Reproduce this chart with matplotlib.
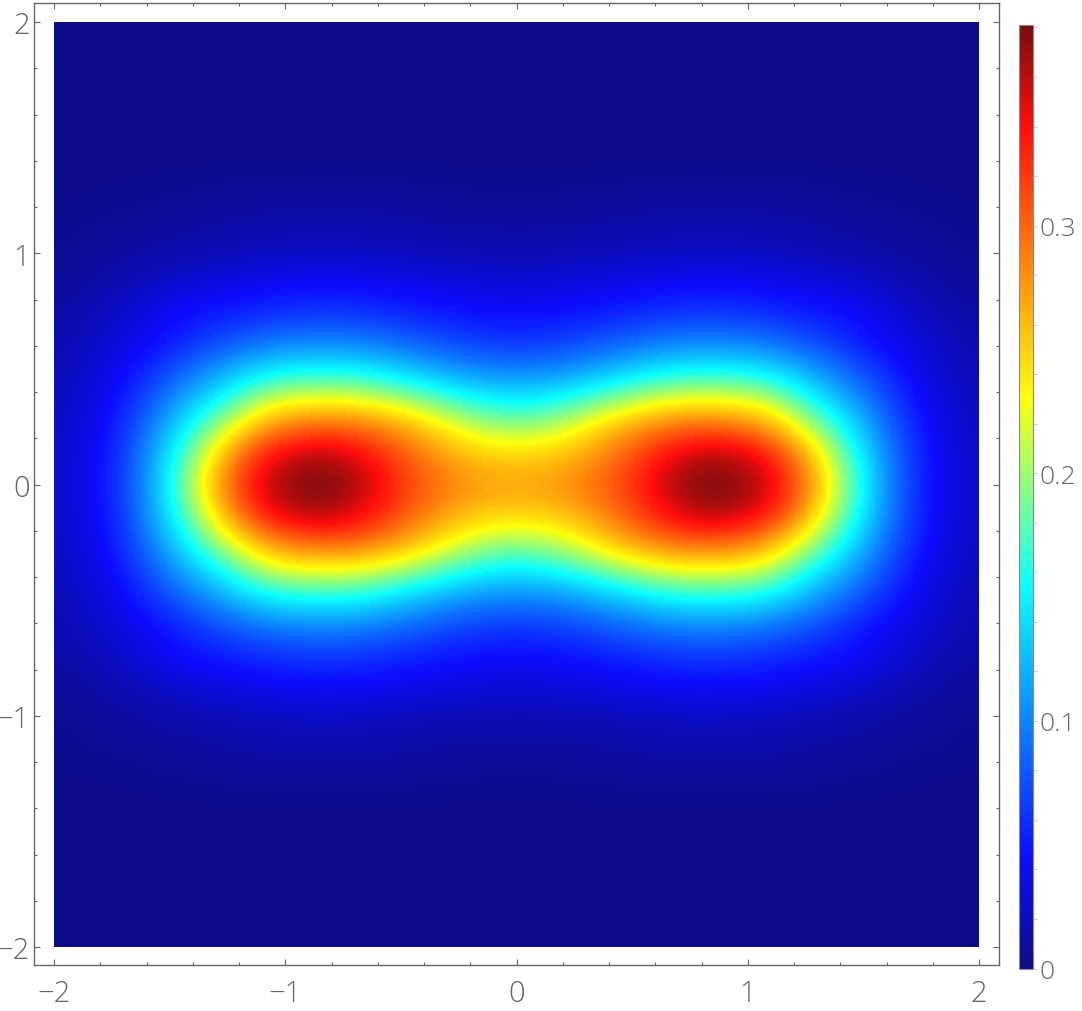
import numpy as np
import matplotlib
matplotlib.use("Agg")
import matplotlib.pyplot as plt
from matplotlib import font_manager as fm
from matplotlib.colors import LinearSegmentedColormap, Normalize, to_rgb
from matplotlib.cm import ScalarMappable
from matplotlib.patches import Rectangle
from matplotlib.ticker import MultipleLocator, FixedLocator, FuncFormatter

W, H = 1082, 1012


def light_family():
    for fam in ['Open Sans', 'Lato', 'Roboto', 'Noto Sans', 'Inter']:
        for f in fm.fontManager.ttflist:
            if f.name == fam and f.weight in (200, 300, 'light', 'extra light'):
                return fam
    return 'Open Sans'


FONT = light_family()
plt.rcParams['font.family'] = [FONT, 'DejaVu Sans']

# density: quadrant x>=0, y>=0, step 0.125 (rows = y, columns = x)
y_000 = [.272,.275,.285,.302,.325,.352,.376,.381,.372,.345,.295,.222,.155,.095,.055,.035,.024]
y_125 = [.252,.255,.266,.286,.310,.337,.358,.365,.354,.326,.272,.205,.146,.092,.054,.034,.024]
y_250 = [.198,.206,.224,.250,.274,.292,.303,.302,.292,.262,.216,.170,.124,.082,.050,.032,.022]
y_375 = [.145,.150,.163,.182,.200,.215,.222,.222,.217,.197,.160,.130,.098,.068,.042,.028,.020]
y_500 = [.095,.098,.105,.117,.130,.143,.150,.150,.147,.135,.115,.093,.072,.052,.035,.024,.018]
y_625 = [.062,.064,.069,.076,.084,.091,.095,.095,.093,.085,.075,.062,.049,.038,.029,.021,.016]
y_750 = [.043,.044,.047,.051,.055,.059,.062,.062,.060,.056,.051,.047,.041,.032,.022,.015,.011]
y_875 = [.030,.031,.033,.035,.038,.040,.042,.042,.041,.038,.035,.031,.026,.020,.015,.010,.007]
y_1000 = [.017,.017,.018,.019,.021,.022,.024,.024,.023,.021,.019,.017,.014,.011,.009,.006,.005]
y_1125 = [.010,.011,.011,.012,.013,.015,.015,.015,.015,.014,.012,.010,.009,.007,.006,.005,.004]
y_1250 = [.005,.005,.006,.006,.007,.008,.008,.008,.008,.007,.007,.006,.005,.004,.003,.003,.002]
y_1375 = [.002,.002,.002,.003,.003,.003,.003,.003,.003,.003,.003,.002,.002,.002,.002,.001,.001]
y_1500 = [.001,.001,.001,.001,.001,.001,.001,.001,.001,.001,.001,.001,.001,.001,.001,.001,.001]
y_1625 = [.001,.001,.001,.001,.001,.001,.001,.001,.001,.001,.001,.001,.001,.001,.001,.001,.001]
y_1750 = [.001,.001,.001,.001,.001,.002,.002,.002,.002,.002,.002,.001,.001,.001,.001,.001,.001]
y_1875 = [.002,.002,.002,.002,.002,.002,.002,.002,.002,.002,.002,.002,.002,.002,.002,.002,.002]
y_2000 = [.002,.002,.002,.002,.002,.002,.002,.002,.002,.002,.002,.002,.002,.002,.002,.002,.002]
quadrant_rows = [y_000, y_125, y_250, y_375, y_500, y_625, y_750, y_875, y_1000,
                 y_1125, y_1250, y_1375, y_1500, y_1625, y_1750, y_1875, y_2000]
axis_ticks = [-2, -1, 0, 1, 2]
cbar_labels = [0, 0.1, 0.2, 0.3]
value_max = 0.381
# colour scale: value -> colour
color_values = [0, 0.045, 0.155, 0.23, 0.34, 0.381]
color_names = ['#000080', '#0000ff', '#00ffff', '#ffff00', '#ff0000', '#700000']

Q = np.array(quadrant_rows)
right = np.vstack([Q[:0:-1], Q])
Z = np.hstack([right[:, :0:-1], right])

stops = [(v / value_max, tuple(0.95 * c + 0.05 for c in to_rgb(n)))
         for v, n in zip(color_values, color_names)]
cmap = LinearSegmentedColormap.from_list('bar', stops, N=512)
norm = Normalize(0, value_max)
GRAY = '#666666'

fig = plt.figure(figsize=(W / 100, H / 100), dpi=100)
L, R, T, B = 34, 998.5, 3.5, 966
ax = fig.add_axes([L / W, 1 - B / H, (R - L) / W, (B - T) / H])
half = 0.0625
im = ax.imshow(Z, extent=(-2 - half, 2 + half, -2 - half, 2 + half), origin='lower',
               cmap=cmap, norm=norm, interpolation='bicubic', aspect='auto')
im.set_clip_path(Rectangle((-2, -2), 4, 4, transform=ax.transData))
sx = 231.25
ax.set_xlim(-2 + (L - 54) / sx, 2 + (R - 979) / sx)
ax.set_ylim(-2 - (B - 948) / sx, 2 + (23 - T) / sx)
fmt = FuncFormatter(lambda v, p: f'{v:.0f}'.replace('-', '\u2212'))
for axis in (ax.xaxis, ax.yaxis):
    axis.set_major_locator(FixedLocator(axis_ticks))
    axis.set_minor_locator(MultipleLocator(0.2))
    axis.set_major_formatter(fmt)
ax.tick_params(which='major', direction='in', length=4.2, width=0.8, color=GRAY,
               top=True, right=True, labelsize=21, labelcolor=GRAY)
ax.tick_params(axis='x', which='major', pad=10)
ax.tick_params(axis='y', which='major', pad=3)
ax.tick_params(which='minor', direction='in', length=2.3, width=0.8, color=GRAY,
               top=True, right=True)
for lab in ax.get_xticklabels() + ax.get_yticklabels():
    lab.set_fontweight('light')
for s in ax.spines.values():
    s.set_color(GRAY)
    s.set_linewidth(1.0)

cax = fig.add_axes([1019 / W, 1 - 969.5 / H, 14 / W, 943.5 / H])
cb = fig.colorbar(ScalarMappable(norm=norm, cmap=cmap), cax=cax)
cb.outline.set_edgecolor('#8a8a8a')
cb.outline.set_linewidth(0.8)
cb.set_ticks(cbar_labels, labels=['0', '0.1', '0.2', '0.3'])
cb.ax.yaxis.set_minor_locator(MultipleLocator(0.02))
cax.tick_params(which='major', direction='out', length=3, width=0.7, color='#cccccc',
                labelsize=19, labelcolor=GRAY, pad=2)
cax.tick_params(which='minor', direction='out', length=3, width=0.7, color='#cccccc')
for lab in cax.get_yticklabels():
    lab.set_fontweight('light')

fig.savefig('out.png', dpi=100)
